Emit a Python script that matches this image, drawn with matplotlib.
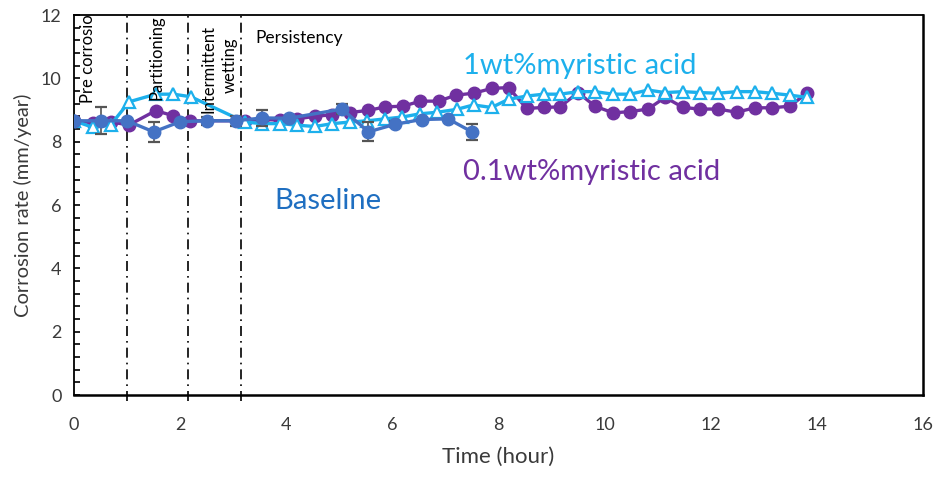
import matplotlib.pyplot as plt
from matplotlib.ticker import MultipleLocator

# Baseline run (every half hour, with error bars)
t_base = [0, 0.5, 1.0, 1.5, 2.0, 2.5, 3.05, 3.55, 4.05, 5.05, 5.55, 6.05, 6.55, 7.05, 7.5]
v_base = [8.66, 8.66, 8.66, 8.31, 8.63, 8.66, 8.66, 8.75, 8.74, 9.03, 8.31, 8.55, 8.70, 8.72, 8.31]
err_base = [0, 0.42, 0, 0.32, 0, 0.12, 0.15, 0.25, 0, 0.17, 0.3, 0.1, 0, 0, 0.25]

# 0.1 wt% myristic acid
t_low = [0, 0.36, 0.69, 1.04, 1.54, 1.87, 2.19, 3.22, 3.55, 3.88, 4.2, 4.54, 4.86, 5.2,
         5.55, 5.87, 6.2, 6.53, 6.87, 7.2, 7.53, 7.87, 8.19, 8.53, 8.85, 9.16, 9.5, 9.82,
         10.16, 10.48, 10.82, 11.14, 11.48, 11.8, 12.14, 12.49, 12.83, 13.15, 13.49, 13.81]
v_low = [8.66, 8.6, 8.62, 8.53, 8.98, 8.82, 8.66, 8.66, 8.7, 8.68, 8.72, 8.8, 8.85, 8.92,
         8.99, 9.1, 9.12, 9.28, 9.28, 9.47, 9.53, 9.68, 9.71, 9.05, 9.08, 9.1, 9.55, 9.12,
         8.91, 8.95, 9.03, 9.4, 9.08, 9.03, 9.03, 8.93, 9.07, 9.07, 9.12, 9.53]

# 1 wt% myristic acid
t_high = [0, 0.36, 0.69, 1.04, 1.54, 1.87, 2.2, 3.22, 3.55, 3.88, 4.21, 4.54, 4.87, 5.2,
          5.53, 5.86, 6.19, 6.52, 6.85, 7.21, 7.53, 7.87, 8.19, 8.53, 8.85, 9.16, 9.5, 9.82,
          10.16, 10.48, 10.82, 11.14, 11.48, 11.8, 12.14, 12.49, 12.83, 13.15, 13.49, 13.81]
v_high = [8.66, 8.45, 8.53, 9.26, 9.5, 9.5, 9.42, 8.62, 8.57, 8.57, 8.52, 8.48, 8.57, 8.62,
          8.66, 8.72, 8.78, 8.88, 8.93, 9.02, 9.16, 9.08, 9.34, 9.44, 9.5, 9.5, 9.58, 9.58,
          9.5, 9.5, 9.63, 9.55, 9.58, 9.55, 9.53, 9.58, 9.58, 9.53, 9.47, 9.4]

# stage boundaries (hours)
stage_edges = [1.0, 2.15, 3.15]

BLUE = "#4472C4"
PURPLE = "#7030A0"
CYAN = "#1DB0EC"
TEXT = "#3a3a3a"

plt.rcParams["font.family"] = ["Lato", "DejaVu Sans"]

fig = plt.figure(figsize=(9.37, 4.78), dpi=100)
ax = fig.add_axes([0.079, 0.1736, 0.906, 0.795])

ax.plot(t_low, v_low, color=PURPLE, lw=2.4, marker="o", ms=9, zorder=2)
ax.plot(t_high, v_high, color=CYAN, lw=2.4, marker="^", ms=9,
        mfc="white", mec=CYAN, mew=1.6, zorder=3)
ax.errorbar(t_base, v_base, yerr=err_base, color=BLUE, lw=2.4, marker="o", ms=9,
            ecolor="#555555", elinewidth=1.2, capsize=4, capthick=1.6, zorder=4)

for x in stage_edges:
    ax.plot([x, x], [-0.2, 12], color="black", lw=1.2,
            linestyle=(0, (6, 3, 1, 3)), clip_on=False, zorder=1)

ax.set_xlim(0, 16)
ax.set_ylim(0, 12)
ax.set_xticks(range(0, 17, 2))
ax.set_yticks(range(0, 13, 2))
ax.yaxis.set_minor_locator(MultipleLocator(0.4))
ax.tick_params(axis="x", length=0, pad=16, labelsize=13, labelcolor=TEXT)
ax.tick_params(axis="y", which="both", direction="in", length=4, width=1.2,
               pad=9, labelsize=13, labelcolor=TEXT)
for sp in ax.spines.values():
    sp.set_linewidth(1.3)
ax.spines["bottom"].set_linewidth(1.8)
ax.spines["right"].set_linewidth(1.8)

ax.set_xlabel("Time (hour)", fontsize=16, color=TEXT, labelpad=10)
ax.set_ylabel("Corrosion rate (mm/year)", fontsize=14.5, color=TEXT, labelpad=6)

# stage names
ax.text(0.26, 9.22, "Pre corrosion", rotation=90, ha="center", va="bottom",
        fontsize=12, color="black", clip_on=True)
ax.text(1.56, 9.31, "Partitioning", rotation=90, ha="center", va="bottom",
        fontsize=12, color="black", clip_on=True)
ax.text(2.53, 8.9, "Intermittent", rotation=90, ha="center", va="bottom",
        fontsize=12, color="black", clip_on=True)
ax.text(2.94, 10.42, "wetting", rotation=90, ha="center", va="center",
        fontsize=12, color="black")
ax.text(3.41, 11.27, "Persistency", ha="left", va="center", fontsize=12.5, color="black")

# series labels
ax.text(7.33, 10.39, "1wt%myristic acid", ha="left", va="center", fontsize=21, color=CYAN)
ax.text(7.33, 7.04, "0.1wt%myristic acid", ha="left", va="center", fontsize=21, color=PURPLE)
ax.text(3.77, 6.13, "Baseline", ha="left", va="center", fontsize=21, color="#1F6FC1")

fig.savefig("out.png", dpi=100)
